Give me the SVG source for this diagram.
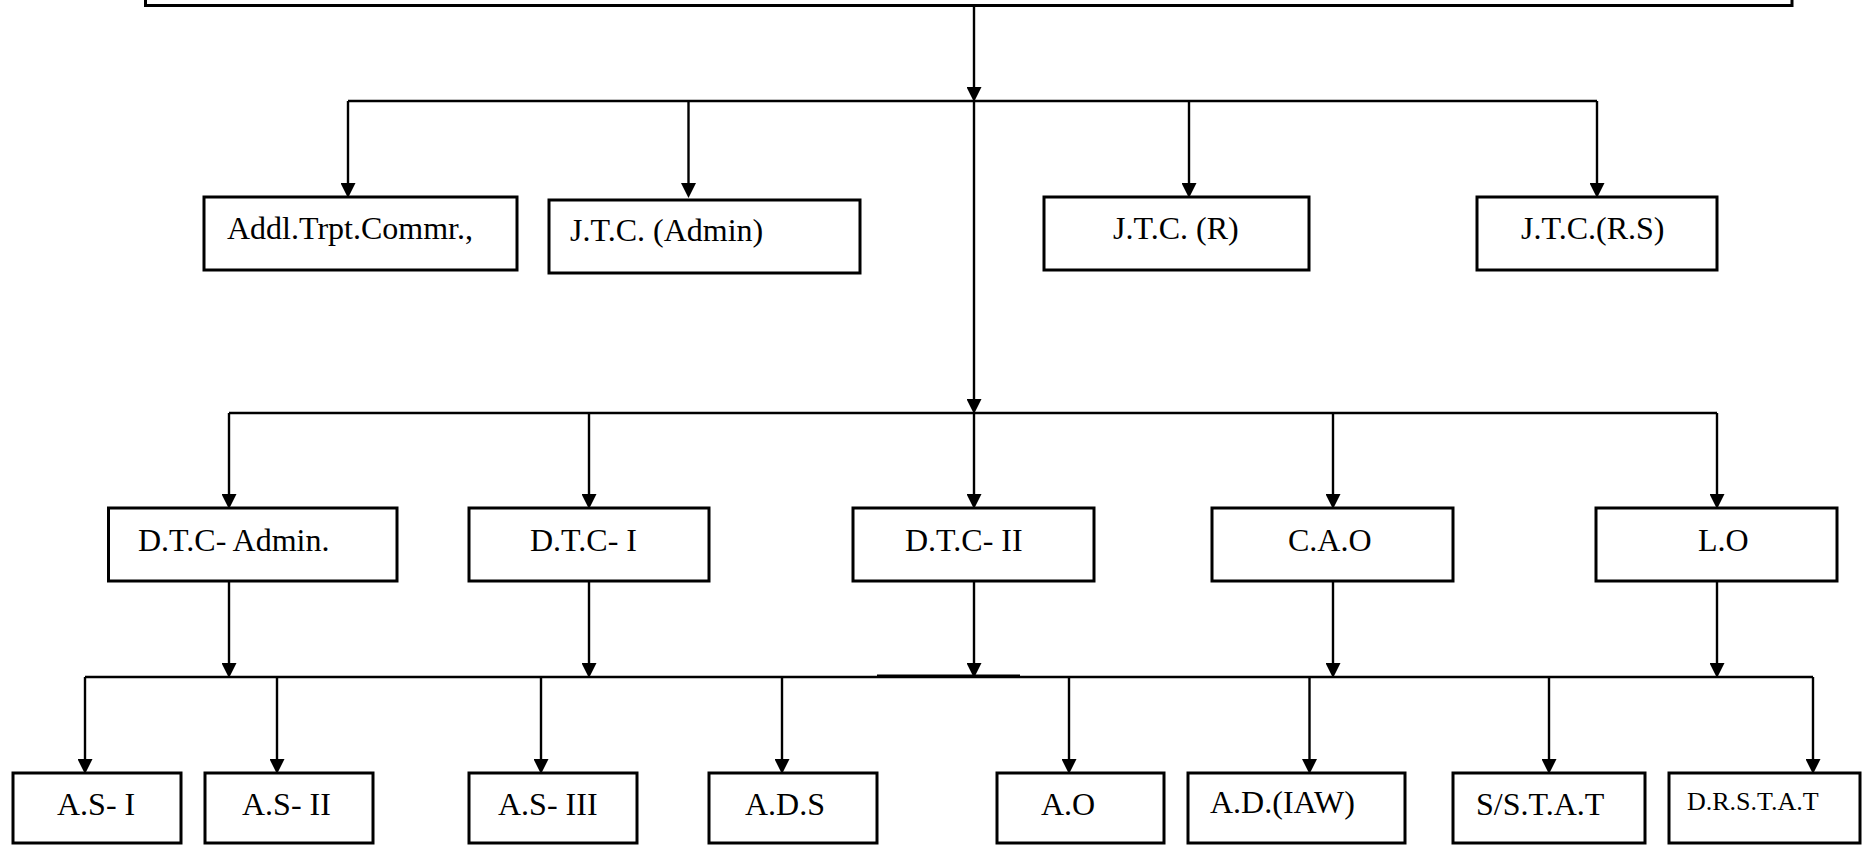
<svg xmlns="http://www.w3.org/2000/svg" width="1871" height="845" viewBox="0 0 1871 845">
<style>
.box{fill:#fff;stroke:#000;stroke-width:3}
.c{stroke:#000;stroke-width:2.4;fill:none}
.ca{stroke:#000;stroke-width:2.4;fill:none;marker-end:url(#arr)}
text{font-family:'Liberation Serif','DejaVu Serif',serif;font-size:32px;fill:#000}
.sm{font-size:26px}
</style>
<defs>
<marker id="arr" viewBox="0 0 15 15" markerWidth="15" markerHeight="15" refX="7" refY="7.5" orient="auto" markerUnits="userSpaceOnUse">
<path d="M0,0 L15,7.5 L0,15 z" fill="#000"/>
</marker>
</defs>
<rect width="1871" height="845" fill="#fff"/>
<g id="top"><rect class="box" x="145.5" y="-10" width="1646.5" height="15.5"/></g>
<g id="connectors">
<line class="ca" x1="974" y1="5" x2="974" y2="94"/>
<line class="c" x1="348" y1="101" x2="1597" y2="101"/>
<line class="ca" x1="348" y1="101" x2="348" y2="190"/>
<line class="ca" x1="688.5" y1="101" x2="688.5" y2="190"/>
<line class="ca" x1="1189" y1="101" x2="1189" y2="190"/>
<line class="ca" x1="1597" y1="101" x2="1597" y2="190"/>
<line class="ca" x1="974" y1="101" x2="974" y2="406"/>
<line class="c" x1="229" y1="413" x2="1717" y2="413"/>
<line class="ca" x1="229" y1="413" x2="229" y2="501"/>
<line class="ca" x1="589" y1="413" x2="589" y2="501"/>
<line class="ca" x1="974" y1="413" x2="974" y2="501"/>
<line class="ca" x1="1333" y1="413" x2="1333" y2="501"/>
<line class="ca" x1="1717" y1="413" x2="1717" y2="501"/>
<line class="ca" x1="229" y1="582" x2="229" y2="670"/>
<line class="ca" x1="589" y1="582" x2="589" y2="670"/>
<line class="ca" x1="974" y1="582" x2="974" y2="670"/>
<line class="ca" x1="1333" y1="582" x2="1333" y2="670"/>
<line class="ca" x1="1717" y1="582" x2="1717" y2="670"/>
<line class="c" x1="85" y1="677" x2="1813" y2="677"/>
<line class="c" x1="877" y1="676" x2="1020" y2="676" style="stroke-width:3"/>
<line class="ca" x1="85" y1="677" x2="85" y2="766"/>
<line class="ca" x1="277" y1="677" x2="277" y2="766"/>
<line class="ca" x1="541" y1="677" x2="541" y2="766"/>
<line class="ca" x1="782" y1="677" x2="782" y2="766"/>
<line class="ca" x1="1069" y1="677" x2="1069" y2="766"/>
<line class="ca" x1="1309.5" y1="677" x2="1309.5" y2="766"/>
<line class="ca" x1="1549" y1="677" x2="1549" y2="766"/>
<line class="ca" x1="1813" y1="677" x2="1813" y2="766"/>
</g>
<g id="n-addl"><rect class="box" x="204" y="197" width="313" height="73"/><text x="227" y="239">Addl.Trpt.Commr.,</text></g>
<g id="n-jtc-admin"><rect class="box" x="549" y="200" width="311" height="73"/><text x="570" y="241">J.T.C. (Admin)</text></g>
<g id="n-jtc-r"><rect class="box" x="1044" y="197" width="265" height="73"/><text x="1113" y="239">J.T.C. (R)</text></g>
<g id="n-jtc-rs"><rect class="box" x="1477" y="197" width="240" height="73"/><text x="1521" y="239">J.T.C.(R.S)</text></g>
<g id="n-dtc-admin"><rect class="box" x="108.5" y="508" width="288.5" height="73"/><text x="138" y="551">D.T.C- Admin.</text></g>
<g id="n-dtc-1"><rect class="box" x="469" y="508" width="240" height="73"/><text x="530" y="551">D.T.C- I</text></g>
<g id="n-dtc-2"><rect class="box" x="853" y="508" width="241" height="73"/><text x="905" y="551">D.T.C- II</text></g>
<g id="n-cao"><rect class="box" x="1212" y="508" width="241" height="73"/><text x="1288" y="551">C.A.O</text></g>
<g id="n-lo"><rect class="box" x="1596" y="508" width="241" height="73"/><text x="1698" y="551">L.O</text></g>
<g id="n-as1"><rect class="box" x="13" y="773" width="168" height="70"/><text x="57" y="815">A.S- I</text></g>
<g id="n-as2"><rect class="box" x="205" y="773" width="168" height="70"/><text x="242" y="815">A.S- II</text></g>
<g id="n-as3"><rect class="box" x="469" y="773" width="168" height="70"/><text x="498" y="815">A.S- III</text></g>
<g id="n-ads"><rect class="box" x="709" y="773" width="168" height="70"/><text x="745" y="815">A.D.S</text></g>
<g id="n-ao"><rect class="box" x="997" y="773" width="167" height="70"/><text x="1041" y="815">A.O</text></g>
<g id="n-adiaw"><rect class="box" x="1188" y="773" width="217" height="70"/><text x="1210" y="813">A.D.(IAW)</text></g>
<g id="n-sstat"><rect class="box" x="1453" y="773" width="192" height="70"/><text x="1476" y="815">S/S.T.A.T</text></g>
<g id="n-drstat"><rect class="box" x="1669" y="773" width="191" height="70"/><text class="sm" x="1687" y="810">D.R.S.T.A.T</text></g>
</svg>
